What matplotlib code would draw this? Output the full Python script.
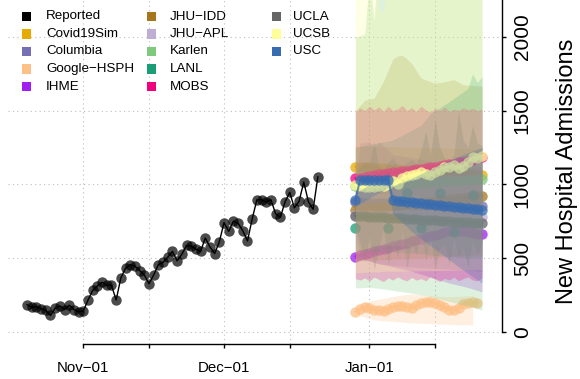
import matplotlib
matplotlib.use("Agg")
import matplotlib.dates as mdates
import matplotlib.pyplot as plt
import pandas as pd
from matplotlib.patches import Rectangle

plt.rcParams["font.family"] = ["Liberation Sans", "DejaVu Sans"]

ORIGIN = pd.Timestamp("2020-11-01")


def to_dates(days):
    return [(ORIGIN + pd.Timedelta(days=float(d))).to_pydatetime() for d in days]


# --- reported admissions, Oct-20 .. Dec-21 (days relative to Nov-01) ---
reported_days = list(range(-12, 51))
reported = [183, 165, 170, 155, 145, 110, 160, 175, 150, 180, 150, 135, 140,
            215, 280, 310, 335, 315, 315, 215, 365, 430, 455, 445, 415, 385,
            325, 385, 455, 470, 505, 545, 480, 525, 585, 580, 560, 545, 635,
            575, 530, 610, 740, 680, 750, 735, 685, 615, 765, 895, 895, 880,
            895, 800, 775, 880, 945, 840, 885, 1015, 880, 830, 1050]

# --- forecast point series, Dec-29 .. Jan-25 ---
fc_days = list(range(58, 86))
covid19sim = [1120, 1118, 1116, 1114, 1112, 1110, 1108, 1106, 1104, 1102, 1100,
              1098, 1096, 1094, 1092, 1090, 1088, 1086, 1084, 1082, 1080, 1078,
              1076, 1074, 1071, 1068, 1066, 1063]
columbia = [880, 878, 876, 875, 873, 872, 870, 869, 868, 866, 865, 864, 862, 861,
            860, 859, 858, 857, 856, 855, 854, 853, 853, 852, 851, 851, 850, 850]
ihme = [510, 519, 527, 536, 544, 553, 561, 570, 579, 587, 596, 604, 613, 621,
        630, 639, 647, 656, 664, 673, 681, 690, 686, 682, 677, 671, 666, 660]
jhu_idd = [825, 829, 832, 836, 839, 843, 846, 850, 854, 857, 861, 864, 868, 872,
           875, 879, 883, 886, 890, 893, 897, 901, 905, 908, 912, 916, 919, 923]
jhu_apl = [790, 790, 789, 789, 788, 788, 787, 787, 786, 786, 785, 785, 785, 784,
           784, 784, 783, 783, 783, 782, 782, 782, 781, 781, 781, 780, 780, 780]
karlen = [985, 987, 989, 991, 993, 995, 996, 998, 1000, 1001, 1003, 1005, 1006,
          1008, 1010, 1011, 1013, 1015, 1017, 1019, 1021, 1023, 1025, 1027, 1029,
          1031, 1033, 1035]
mobs = [1041, 1045, 1050, 1058, 1062, 1068, 1072, 1075, 1080, 1085, 1090, 1092,
        1098, 1102, 1106, 1110, 1115, 1120, 1125, 1130, 1136, 1140, 1148, 1152,
        1160, 1168, 1178, 1187]
ucla = [785, 784, 782, 780, 779, 777, 775, 773, 771, 769, 768, 766, 764, 762,
        760, 758, 757, 755, 753, 751, 749, 747, 745, 743, 741, 739, 737, 735]
ucsb = [995, 985, 980, 980, 983, 985, 990, 1000, 1020, 1005, 1040, 1055, 1060,
        1070, 1080, 1070, 1060, 1085, 1100, 1115, 1120, 1130, 1110, 1125, 1150,
        1185, 1175, 1195]
usc = [893, 1029, 1029, 1029, 1029, 1029, 1029, 1029, 893, 889, 886, 882, 879,
       875, 872, 868, 865, 861, 858, 854, 851, 847, 844, 840, 836, 833, 829, 825]

google_days = list(range(58, 85))
google = [136, 155, 170, 160, 150, 145, 140, 155, 170, 172, 175, 168, 160, 178,
          193, 200, 204, 192, 180, 165, 150, 147, 160, 190, 198, 200, 195]

lanl_days = [58, 65, 69, 72, 76, 79, 83]
lanl = [701, 701, 943, 701, 943, 678, 927]

# --- prediction intervals (knot days, lower, upper) ---
covid_band_days = [58, 85]
covid_lo = [950, 880]
covid_hi = [1260, 1240]

columbia_band_days = [58, 59, 61, 62, 63, 66, 70, 75, 80, 85]
columbia_lo = [700, 500, 480, 470, 460, 450, 440, 430, 420, 410]
columbia_hi = [1000, 1280, 1290, 1250, 1290, 1200, 1180, 1150, 1130, 1120]

google_band_days = [58, 60, 62, 64, 66, 68, 70, 72, 74, 76, 78, 80, 83]
google_lo = [114, 100, 80, 75, 70, 65, 60, 58, 55, 52, 50, 48, 45]
google_hi = [181, 200, 215, 225, 238, 250, 256, 250, 245, 240, 238, 240, 245]

ihme_band_days = [58, 62, 66, 70, 74, 78, 82, 85]
ihme_lo = [500, 470, 440, 410, 370, 330, 300, 270]
ihme_hi = [520, 560, 600, 640, 680, 710, 740, 760]

idd_band_days = [58, 60, 62, 64, 65, 66, 67, 68, 69, 70, 72, 75, 77, 79, 81, 85]
idd_lo = [480, 482, 485, 488, 490, 492, 494, 495, 497, 498, 500, 505, 508, 512,
          515, 520]
idd_hi = [1500, 1570, 1585, 1700, 1775, 1850, 1870, 1875, 1850, 1820, 1720,
          1685, 1695, 1710, 1675, 1665]

apl_band_days = [58, 85]
apl_lo = [600, 550]
apl_hi = [1000, 1100]

karlen_band_days = [58, 59, 60, 61, 62, 63, 66, 70, 74, 78, 82, 85]
karlen_lo = [297, 298, 300, 300, 298, 295, 280, 262, 238, 205, 175, 147]
karlen_hi = [2000, 2005, 2020, 2400, 2110, 2600, 2600, 2600, 2600, 2600, 2600,
             2600]

lanl_band_days = [58, 66, 72, 74, 78, 82, 83, 84, 85]
lanl_lo = [550, 540, 530, 520, 510, 500, 500, 500, 500]
lanl_hi = [1250, 1300, 1400, 1480, 1560, 1650, 1750, 1690, 1730]

mobs_lo = [360, 350, 365, 345, 370, 355, 340, 365, 350, 372, 355, 345, 368, 350,
           360, 345, 372, 355, 340, 362, 350, 370, 345, 360, 372, 350, 345, 365]
mobs_hi = [1490, 1520, 1500, 1530, 1505, 1525, 1495, 1530, 1500, 1510, 1535,
           1500, 1520, 1495, 1530, 1505, 1490, 1515, 1500, 1525, 1495, 1510,
           1500, 1520, 1505, 1515, 1500, 1510]

ucla_lo = [720, 600, 480, 650, 420, 560, 700, 450, 620, 500, 680, 430, 600, 520,
           700, 480, 650, 420, 560, 600, 450, 640, 500, 580, 430, 620, 520, 600]
ucla_hi = [1080, 1120, 1150, 1140, 1290, 1120, 1100, 1150, 1180, 1130, 1120,
           1150, 1170, 1140, 1230, 1360, 1200, 1440, 1250, 1180, 1160, 1200,
           1500, 1300, 1250, 1400, 1280, 1260]

ucsb_band_days = [58, 62, 63, 64, 65, 66, 85]
ucsb_lo = [400, 405, 405, 410, 410, 410, 420]
ucsb_hi = [2600, 2600, 2200, 2160, 2500, 2600, 2600]

usc_band_days = [58, 65, 66, 70, 75, 80, 85]
usc_lo = [850, 980, 800, 680, 560, 440, 330]
usc_hi = [940, 1080, 990, 1040, 1120, 1190, 1250]

model_names = ["Covid19Sim", "Columbia", "Google\u2212HSPH", "IHME", "JHU\u2212IDD",
               "JHU\u2212APL", "Karlen", "LANL", "MOBS", "UCLA", "UCSB", "USC"]
model_colors = ["#E6AB02", "#7570B3", "#FDC086", "#A020F0", "#A6761D", "#BEAED4",
                "#7FC97F", "#1B9E77", "#F0027F", "#666666", "#FFFF99", "#386CB0"]

bands = [
    (covid_band_days, covid_lo, covid_hi),
    (columbia_band_days, columbia_lo, columbia_hi),
    (google_band_days, google_lo, google_hi),
    (ihme_band_days, ihme_lo, ihme_hi),
    (idd_band_days, idd_lo, idd_hi),
    (apl_band_days, apl_lo, apl_hi),
    (karlen_band_days, karlen_lo, karlen_hi),
    (lanl_band_days, lanl_lo, lanl_hi),
    (fc_days, mobs_lo, mobs_hi),
    (fc_days, ucla_lo, ucla_hi),
    (ucsb_band_days, ucsb_lo, ucsb_hi),
    (usc_band_days, usc_lo, usc_hi),
]
points = [
    (fc_days, covid19sim, "-"),
    (fc_days, columbia, "-"),
    (google_days, google, "-"),
    (fc_days, ihme, "-"),
    (fc_days, jhu_idd, "-"),
    (fc_days, jhu_apl, "-"),
    (fc_days, karlen, "-"),
    (lanl_days, lanl, "none"),
    (fc_days, mobs, "-"),
    (fc_days, ucla, "-"),
    (fc_days, ucsb, "-"),
    (fc_days, usc, "-"),
]

W, H = 580, 379
fig = plt.figure(figsize=(W / 100, H / 100), dpi=100)
ax_left, ax_right, ax_bottom = 8, 501.7, 344.3
ax = fig.add_axes([ax_left / W, 1 - ax_bottom / H, (ax_right - ax_left) / W, ax_bottom / H])

# grid
tick_days = [0, 14, 30, 44, 61, 75]
grid_kw = dict(color="#BEBEBE", lw=0.8, ls=(0, (1, 3)), zorder=0)
for v in [0, 500, 1000, 1500, 2000]:
    ax.axhline(v, **grid_kw)
for d in to_dates(tick_days):
    ax.axvline(d, **grid_kw)

# each model: ribbon, then its points; later ribbons veil earlier points
for i, ((bd, lo, hi), (pd_, vals, ls), col) in enumerate(zip(bands, points, model_colors)):
    ax.fill_between(to_dates(bd), lo, hi, color=col, alpha=0.25, lw=0, zorder=1 + 2 * i)
    ax.plot(to_dates(pd_), vals, ls=ls, lw=1.5, color=col, marker="o", ms=7.5,
            mec="none", alpha=0.75, zorder=2 + 2 * i)

ax.plot(to_dates(reported_days), reported, "-", color="black", lw=1, zorder=40)
ax.plot(to_dates(reported_days), reported, "o", color="black", ms=7.5, mec="none",
        alpha=0.7, zorder=40)

x_lo, x_hi = to_dates([-16.06, 89.2])
ax.set_xlim(x_lo, x_hi)
ax.set_ylim(-85.5, 2250)

for s in ["top", "left"]:
    ax.spines[s].set_visible(False)
b0, b1 = mdates.date2num(to_dates([0, 75]))
ax.spines["bottom"].set_bounds(b0, b1)
ax.spines["right"].set_bounds(0, 2250)
for s in ["bottom", "right"]:
    ax.spines[s].set_linewidth(1.0)
    ax.spines[s].set_zorder(50)

ax.set_xticks(to_dates(tick_days))
ax.set_xticklabels(["Nov\u221201", "", "Dec\u221201", "", "Jan\u221201", ""])
ax.tick_params(axis="x", direction="out", length=3, width=1, pad=8.8, labelsize=10.8)
ax.yaxis.tick_right()
ax.set_yticks([0, 500, 1000, 1500, 2000])
ax.tick_params(axis="y", direction="out", length=3, width=1, pad=5, labelsize=15)
for lab in ax.get_yticklabels():
    lab.set_rotation(90)
    lab.set_va("center")

fig.text(567.5 / W, 1 - 171.5 / H, "New Hospital Admissions", rotation=90,
         ha="center", va="center", fontsize=17)

# legend: three columns, R-style equal rows
legend_labels = ["Reported"] + model_names
legend_colors = ["black"] + model_colors
col_square_x = [26.7, 151.7, 276.7]
col_text_x = [46, 170, 293]
row_y = [16.5, 34, 51.5, 69, 86.5]
sq = 9.5
for k, (lab, col) in enumerate(zip(legend_labels, legend_colors)):
    c, r = divmod(k, 5)
    cx, cy = col_square_x[c], row_y[r]
    fig.add_artist(Rectangle(((cx - sq / 2) / W, 1 - (cy + sq / 2) / H), sq / W, sq / H,
                             transform=fig.transFigure, color=col, lw=0))
    fig.text(col_text_x[c] / W, 1 - cy / H, lab, ha="left", va="center",
             fontsize=9.6)

fig.savefig("out.png", dpi=100)
